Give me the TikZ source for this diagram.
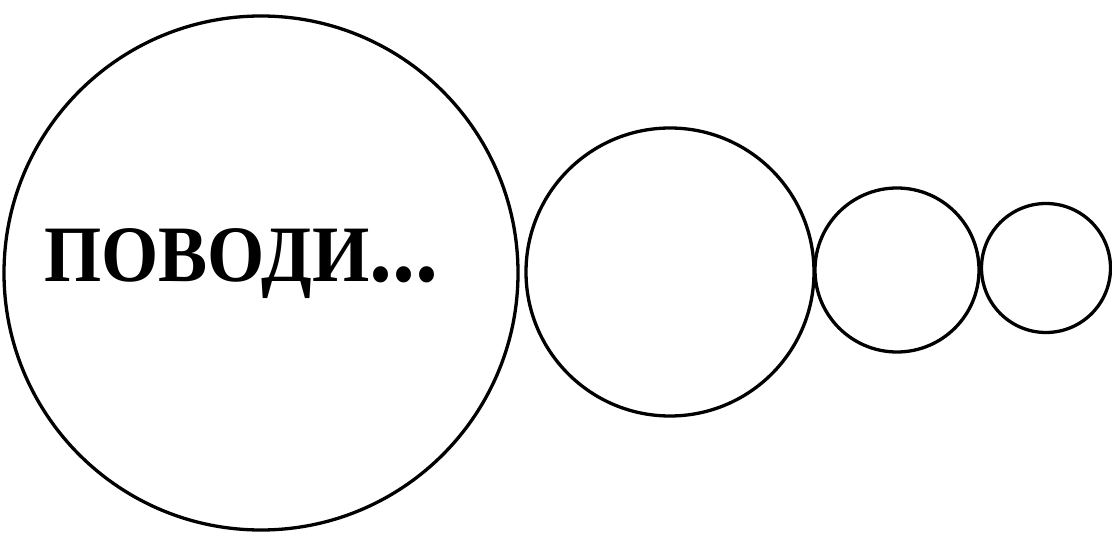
\documentclass[tikz,border=0pt]{standalone}
\usepackage{fontspec}
\setmainfont{Liberation Serif}
\usepackage{tikz}
\usetikzlibrary{positioning}
\tikzset{
  pring/.style={circle, draw=black, line width=3.3pt, inner sep=0pt},
  ptext/.style={font=\fontsize{80}{80}\selectfont\bfseries, inner sep=0pt, xscale=0.92},
}

\begin{document}
\begin{tikzpicture}[x=1pt, y=-1pt]

  \useasboundingbox (0,0) rectangle (1112,540);

  % circulos
  \node[pring, minimum size=514pt] (big)   at (261,273) {};
  \node[pring, minimum size=288pt] (mid)   at (670,272) {};
  \node[pring, minimum size=164pt] (small) at (897,270) {};
  \node[pring, minimum size=129pt] (tiny)  at (1046,268) {};

  % texto
  \node[ptext, anchor=base west] (word) at (44,282)
    {ПОВОДИ{\fontsize{100}{100}\selectfont...}};

\end{tikzpicture}
\end{document}
